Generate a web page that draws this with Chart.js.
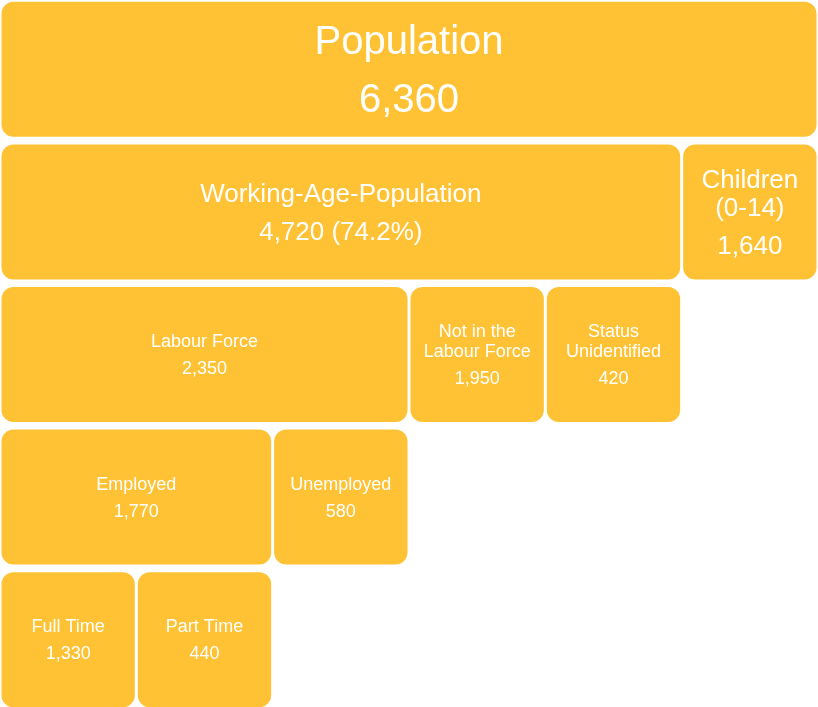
<!DOCTYPE html>
<html lang="en">
<head>
    <meta charset="UTF-8">
    <title>Population breakdown</title>
    <script src="https://cdn.jsdelivr.net/npm/chart.js"></script>
    <style>
        body { margin: 0; background: #fff; overflow: hidden; }
        #wrap { width: 818px; height: 713px; margin-top: -2px; }
    </style>
</head>
<body>

    <div id="wrap"><canvas id="popChart"></canvas></div>

    <script>
        // rows of the breakdown (top to bottom)
        const rowLabels = ['Population', 'Age group', 'Activity', 'Labour force', 'Employment'];

        // one entry per box
        const names = [
            ['Population'],
            ['Working-Age-Population'],
            ['Children', '(0-14)'],
            ['Labour Force'],
            ['Not in the', 'Labour Force'],
            ['Status', 'Unidentified'],
            ['Employed'],
            ['Unemployed'],
            ['Full Time'],
            ['Part Time']
        ];
        const values = [6360, 4720, 1640, 2350, 1950, 420, 1770, 580, 1330, 440];
        const rowOf = [0, 1, 1, 2, 2, 2, 3, 3, 4, 4];
        const parentOf = [null, 0, 0, 1, 1, 1, 3, 3, 6, 6];
        const showShare = [false, true, false, false, false, false, false, false, false, false];
        // grid columns spanned by each box (6 column grid)
        const colStart = [0, 0, 5, 0, 3, 4, 0, 2, 0, 1];
        const colEnd = [6, 5, 6, 3, 4, 5, 2, 3, 1, 2];

        // text sizes per row
        const rowFont = [40, 26, 18, 18, 18];
        const rowLine = [44, 28, 20, 20, 20];
        const rowValueGap = [58, 38, 27, 27, 27];

        const boxLabels = {
            id: 'boxLabels',
            afterDatasetsDraw(chart) {
                const ctx = chart.ctx;
                const meta = chart.getDatasetMeta(0);
                ctx.save();
                ctx.fillStyle = '#ffffff';
                ctx.textAlign = 'center';
                ctx.textBaseline = 'middle';
                meta.data.forEach((bar, i) => {
                    const p = bar.getProps(['x', 'y', 'base'], true);
                    const cx = (p.x + p.base) / 2;
                    const r = rowOf[i];
                    ctx.font = rowFont[r] + 'px "Liberation Sans", Arial, sans-serif';
                    let valText = values[i].toLocaleString('en-US');
                    if (showShare[i]) {
                        const pct = values[i] / values[parentOf[i]] * 100;
                        valText += ' (' + pct.toFixed(1) + '%)';
                    }
                    const lines = names[i];
                    const total = (lines.length - 1) * rowLine[r] + rowValueGap[r];
                    // small nudge down, 'middle' sits a bit high for this font
                    let y = p.y - total / 2 + rowFont[r] * 0.07;
                    lines.forEach((ln, k) => {
                        ctx.fillText(ln, cx, y + k * rowLine[r]);
                    });
                    ctx.fillText(valText, cx, y + (lines.length - 1) * rowLine[r] + rowValueGap[r]);
                });
                ctx.restore();
            }
        };

        const ctx = document.getElementById('popChart').getContext('2d');
        new Chart(ctx, {
            type: 'bar',
            data: {
                labels: rowLabels,
                datasets: [{
                    data: values.map((v, i) => ({ y: rowLabels[rowOf[i]], x: [colStart[i], colEnd[i]] })),
                    backgroundColor: '#fec234',
                    borderColor: '#ffffff',
                    borderWidth: { top: 2, bottom: 2, left: 1.5, right: 1.5 },
                    borderSkipped: false,
                    borderRadius: 14,
                    categoryPercentage: 1,
                    barPercentage: 0.975
                }]
            },
            plugins: [boxLabels],
            options: {
                indexAxis: 'y',
                responsive: true,
                maintainAspectRatio: false,
                animation: false,
                layout: { padding: 0 },
                plugins: {
                    legend: { display: false },
                    tooltip: { enabled: false }
                },
                scales: {
                    x: { type: 'linear', min: 0, max: 6, display: false },
                    y: { type: 'category', display: false }
                }
            }
        });
    </script>

</body>
</html>
